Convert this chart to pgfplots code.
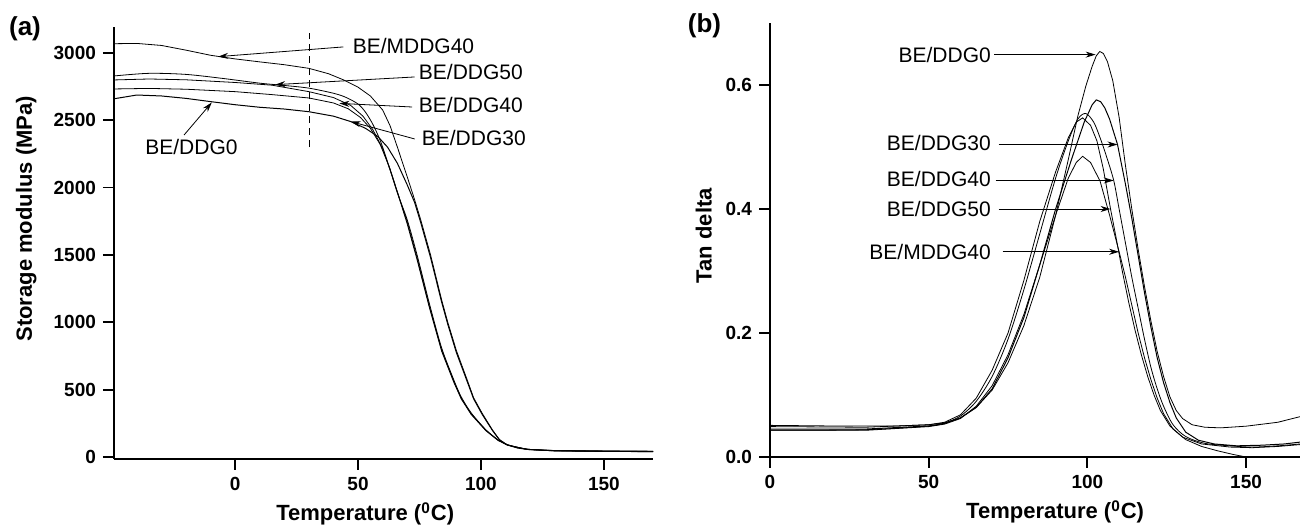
\documentclass[border=0pt]{standalone}
\usepackage{fontspec}
\setmainfont{Liberation Sans}
\usepackage{pgfplots}
\pgfplotsset{compat=1.18}
\usetikzlibrary{arrows.meta}

\newcommand{\tkf}{\fontsize{9.5}{11}\selectfont\bfseries}
\newcommand{\lbf}{\fontsize{11}{13}\selectfont\bfseries}

\pgfplotsset{
  dma/.style={
    scale only axis,
    axis x line*=bottom, axis y line*=left,
    xtick pos=bottom, ytick pos=left,
    axis line style={line width=0.9pt},
    major tick style={line width=0.9pt, black},
    major tick length=5.5pt,
    tick align=outside,
    /pgf/number format/assume math mode=true,
    /pgf/number format/1000 sep={},
    scaled ticks=false,
    xticklabel={\tkf\pgfmathprintnumber{\tick}},
    cycle list={{black, line width=0.5pt, smooth, mark=none}},
  },
}
\tikzset{
  ann/.style={font=\fontsize{10.5}{12}\selectfont, inner sep=0pt},
  arr/.style={-{Stealth[length=5pt,width=3pt]}, line width=0.4pt},
}

\begin{document}
\begin{tikzpicture}
\path[use as bounding box] (0,0) rectangle (650pt,264pt);

% (a) storage modulus
\begin{axis}[dma, at={(57pt,34.5pt)}, anchor=south west,
  width=269.5pt, height=216pt,
  xmin=-49.3, xmax=170, ymin=-15, ymax=3192,
  xtick={0,50,100,150}, ytick={0,500,...,3000},
  yticklabel={\tkf\pgfmathprintnumber{\tick}},
  xlabel={\lbf Temperature (\textsuperscript{0}C)},
  ylabel={\lbf Storage modulus (MPa)},
  every axis x label/.style={at={(axis description cs:0.466,0)}, anchor=base, yshift=-31pt},
  every axis y label/.style={at={(axis description cs:-0.163,0.556)}, rotate=90, anchor=center},
]
% BE/MDDG40
\addplot coordinates {(-49,3068) (-40,3070) (-30,3055) (-20,3020) (-10,2982) (0,2955) (10,2933) (20,2912) (30,2885) (38,2845) (44,2800) (50,2745) (55,2680) (60,2576) (63,2460) (66,2300) (70,2080) (73,1910) (75.5,1760) (79.5,1500) (84,1166) (86.5,1000) (90,790) (94.4,572) (97,440) (100.5,324) (104.7,200) (107.5,130) (110.5,92) (115,68) (119,57) (130,48) (150,45) (170,43)};
% BE/DDG0
\addplot coordinates {(-49,2660) (-40,2687) (-30,2680) (-20,2662) (-10,2638) (0,2615) (10,2596) (20,2583) (30,2563) (40,2530) (47,2490) (53,2440) (58,2380) (62,2300) (66,2180) (70,2020) (73,1890) (75.5,1740) (79.5,1480) (84,1150) (86.5,985) (90,775) (94.4,560) (97,432) (100.5,316) (104.7,196) (107.5,127) (110.5,90) (115,66) (119,56) (130,46) (150,42) (170,40)};
% BE/DDG50
\addplot coordinates {(-49,2829) (-35,2848) (-20,2840) (-5,2810) (10,2775) (20,2758) (30,2738) (40,2700) (45,2670) (50,2620) (53,2560) (56,2470) (59,2350) (62,2190) (66,1960) (70,1760) (74,1500) (79,1140) (84,810) (89,570) (92,445) (96,328) (102,202) (107,127) (111,90) (119,58) (130,48) (150,44) (170,42)};
% BE/DDG30
\addplot coordinates {(-49,2799) (-35,2806) (-20,2800) (0,2780) (15,2760) (30,2712) (40,2668) (47,2610) (52,2530) (56,2430) (60,2290) (64,2080) (70,1745) (74,1480) (79,1120) (84,795) (89,560) (92,436) (96,320) (102,198) (107,124) (111,88) (119,56) (130,46) (150,42) (170,40)};
% BE/DDG40
\addplot coordinates {(-49,2732) (-35,2736) (-20,2730) (0,2712) (15,2690) (30,2665) (40,2628) (46,2585) (51,2520) (55,2440) (59,2320) (63,2140) (70,1730) (74,1465) (79,1110) (84,785) (89,552) (92,430) (96,316) (102,195) (107,122) (111,87) (119,55) (130,45) (150,41) (170,39)};

\draw[dash pattern=on 3.5pt off 2.5pt, line width=0.4pt] (axis cs:30,2300) -- (axis cs:30,3150);
\node[ann, anchor=west] at (axis cs:47.7,3051) {BE/MDDG40};
\node[ann, anchor=west] at (axis cs:74.6,2858) {BE/DDG50};
\node[ann, anchor=west] at (axis cs:74.6,2613) {BE/DDG40};
\node[ann, anchor=west] at (axis cs:75.8,2368) {BE/DDG30};
\node[ann, anchor=west] at (axis cs:-36.7,2301) {BE/DDG0};
\draw[arr] (axis cs:44,3044) -- (axis cs:-6.9,2972);
\draw[arr] (axis cs:73,2821) -- (axis cs:16.3,2764);
\draw[arr] (axis cs:72,2598) -- (axis cs:42.4,2625);
\draw[arr] (axis cs:73,2361) -- (axis cs:47,2490);
\draw[arr] (axis cs:-20.8,2390) -- (axis cs:-9.5,2632);
\end{axis}

% (b) tan delta
\begin{axis}[dma, at={(385pt,35.5pt)}, anchor=south west,
  width=265pt, height=217pt,
  xmin=0, xmax=167, ymin=0, ymax=0.70,
  xtick={0,50,100,150}, ytick={0,0.2,0.4,0.6},
  yticklabel={\tkf\pgfmathprintnumber[fixed,fixed zerofill,precision=1]{\tick}},
  xlabel={\lbf Temperature (\textsuperscript{0}C)},
  ylabel={\lbf Tan delta},
  every axis x label/.style={at={(axis description cs:0.538,0)}, anchor=base, yshift=-31pt},
  every axis y label/.style={at={(axis description cs:-0.125,0.51)}, rotate=90, anchor=center},
]
% BE/DDG0
\addplot coordinates {(0,0.051) (20,0.050) (40,0.050) (50,0.052) (55,0.055) (60,0.063) (65,0.080) (70,0.108) (75,0.152) (80,0.212) (85,0.29) (90,0.39) (94,0.48) (97,0.55) (99.5,0.598) (101.5,0.630) (102.8,0.647) (103.9,0.654) (105,0.651) (106.3,0.638) (108,0.607) (110,0.548) (112,0.47) (114,0.40) (116,0.335) (118,0.275) (120,0.22) (122,0.17) (124,0.13) (126,0.097) (128,0.075) (130,0.062) (133,0.052) (137,0.048) (142,0.047) (150,0.0497) (160,0.056) (167,0.065)};
% BE/DDG30
\addplot coordinates {(0,0.045) (30,0.045) (50,0.050) (55,0.054) (60,0.063) (65,0.080) (70,0.110) (75,0.160) (80,0.225) (85,0.31) (90,0.40) (95,0.48) (99,0.54) (101.5,0.568) (102.8,0.576) (104.2,0.573) (105.5,0.563) (107,0.545) (109.5,0.504) (112,0.44) (114,0.385) (116,0.325) (118,0.265) (120,0.21) (122,0.16) (124,0.12) (126,0.088) (128,0.063) (131,0.040) (135,0.027) (140,0.021) (147,0.018) (155,0.019) (162,0.021) (167,0.024)};
% BE/DDG40
\addplot coordinates {(0,0.043) (30,0.044) (50,0.050) (55,0.055) (60,0.066) (65,0.090) (70,0.130) (75,0.190) (80,0.27) (85,0.36) (90,0.45) (94,0.51) (97,0.545) (99.5,0.554) (102,0.54) (104,0.515) (106,0.485) (108.3,0.446) (110,0.40) (112,0.345) (114,0.29) (116,0.24) (118,0.19) (120,0.145) (122,0.11) (124,0.082) (127,0.052) (131,0.033) (137,0.022) (145,0.018) (152,0.016) (160,0.018) (167,0.021)};
% BE/DDG50
\addplot coordinates {(0,0.049) (30,0.048) (50,0.052) (55,0.056) (60,0.068) (65,0.095) (70,0.140) (75,0.200) (80,0.285) (85,0.38) (90,0.46) (94,0.515) (96.5,0.54) (98.5,0.547) (101,0.535) (103,0.51) (105,0.465) (107.3,0.40) (109,0.355) (111,0.30) (113,0.25) (115,0.205) (117,0.165) (119,0.13) (121,0.10) (123,0.075) (126,0.05) (130,0.032) (136,0.021) (145,0.016) (152,0.015) (160,0.017) (167,0.020)};
% BE/MDDG40
\addplot coordinates {(0,0.043) (30,0.043) (50,0.049) (55,0.053) (60,0.062) (65,0.082) (70,0.115) (75,0.165) (80,0.23) (85,0.31) (90,0.39) (94,0.45) (96.5,0.475) (98.5,0.485) (101,0.475) (104,0.445) (107,0.39) (110,0.331) (112,0.29) (114,0.245) (116,0.20) (118,0.16) (120,0.125) (122,0.095) (124,0.07) (127,0.045) (131,0.028) (136,0.017) (141,0.010) (146,0.004) (150,0.0) (154,-0.003)};

\node[ann, anchor=east] at (axis cs:69.7,0.648) {BE/DDG0};
\node[ann, anchor=east] at (axis cs:69.7,0.506) {BE/DDG30};
\node[ann, anchor=east] at (axis cs:69.7,0.449) {BE/DDG40};
\node[ann, anchor=east] at (axis cs:69.7,0.400) {BE/DDG50};
\node[ann, anchor=east] at (axis cs:69.7,0.331) {BE/MDDG40};
\draw[arr] (axis cs:70.6,0.649) -- (axis cs:102.6,0.649);
\draw[arr] (axis cs:72,0.504) -- (axis cs:109.5,0.504);
\draw[arr] (axis cs:71.1,0.446) -- (axis cs:108.3,0.446);
\draw[arr] (axis cs:72,0.400) -- (axis cs:107.3,0.400);
\draw[arr] (axis cs:73.3,0.331) -- (axis cs:110,0.331);
\end{axis}

\node[font=\bfseries\fontsize{13}{15}\selectfont] at (12.5pt,249.75pt) {(a)};
\node[font=\bfseries\fontsize{13}{15}\selectfont] at (352.25pt,251pt) {(b)};
\end{tikzpicture}
\end{document}
